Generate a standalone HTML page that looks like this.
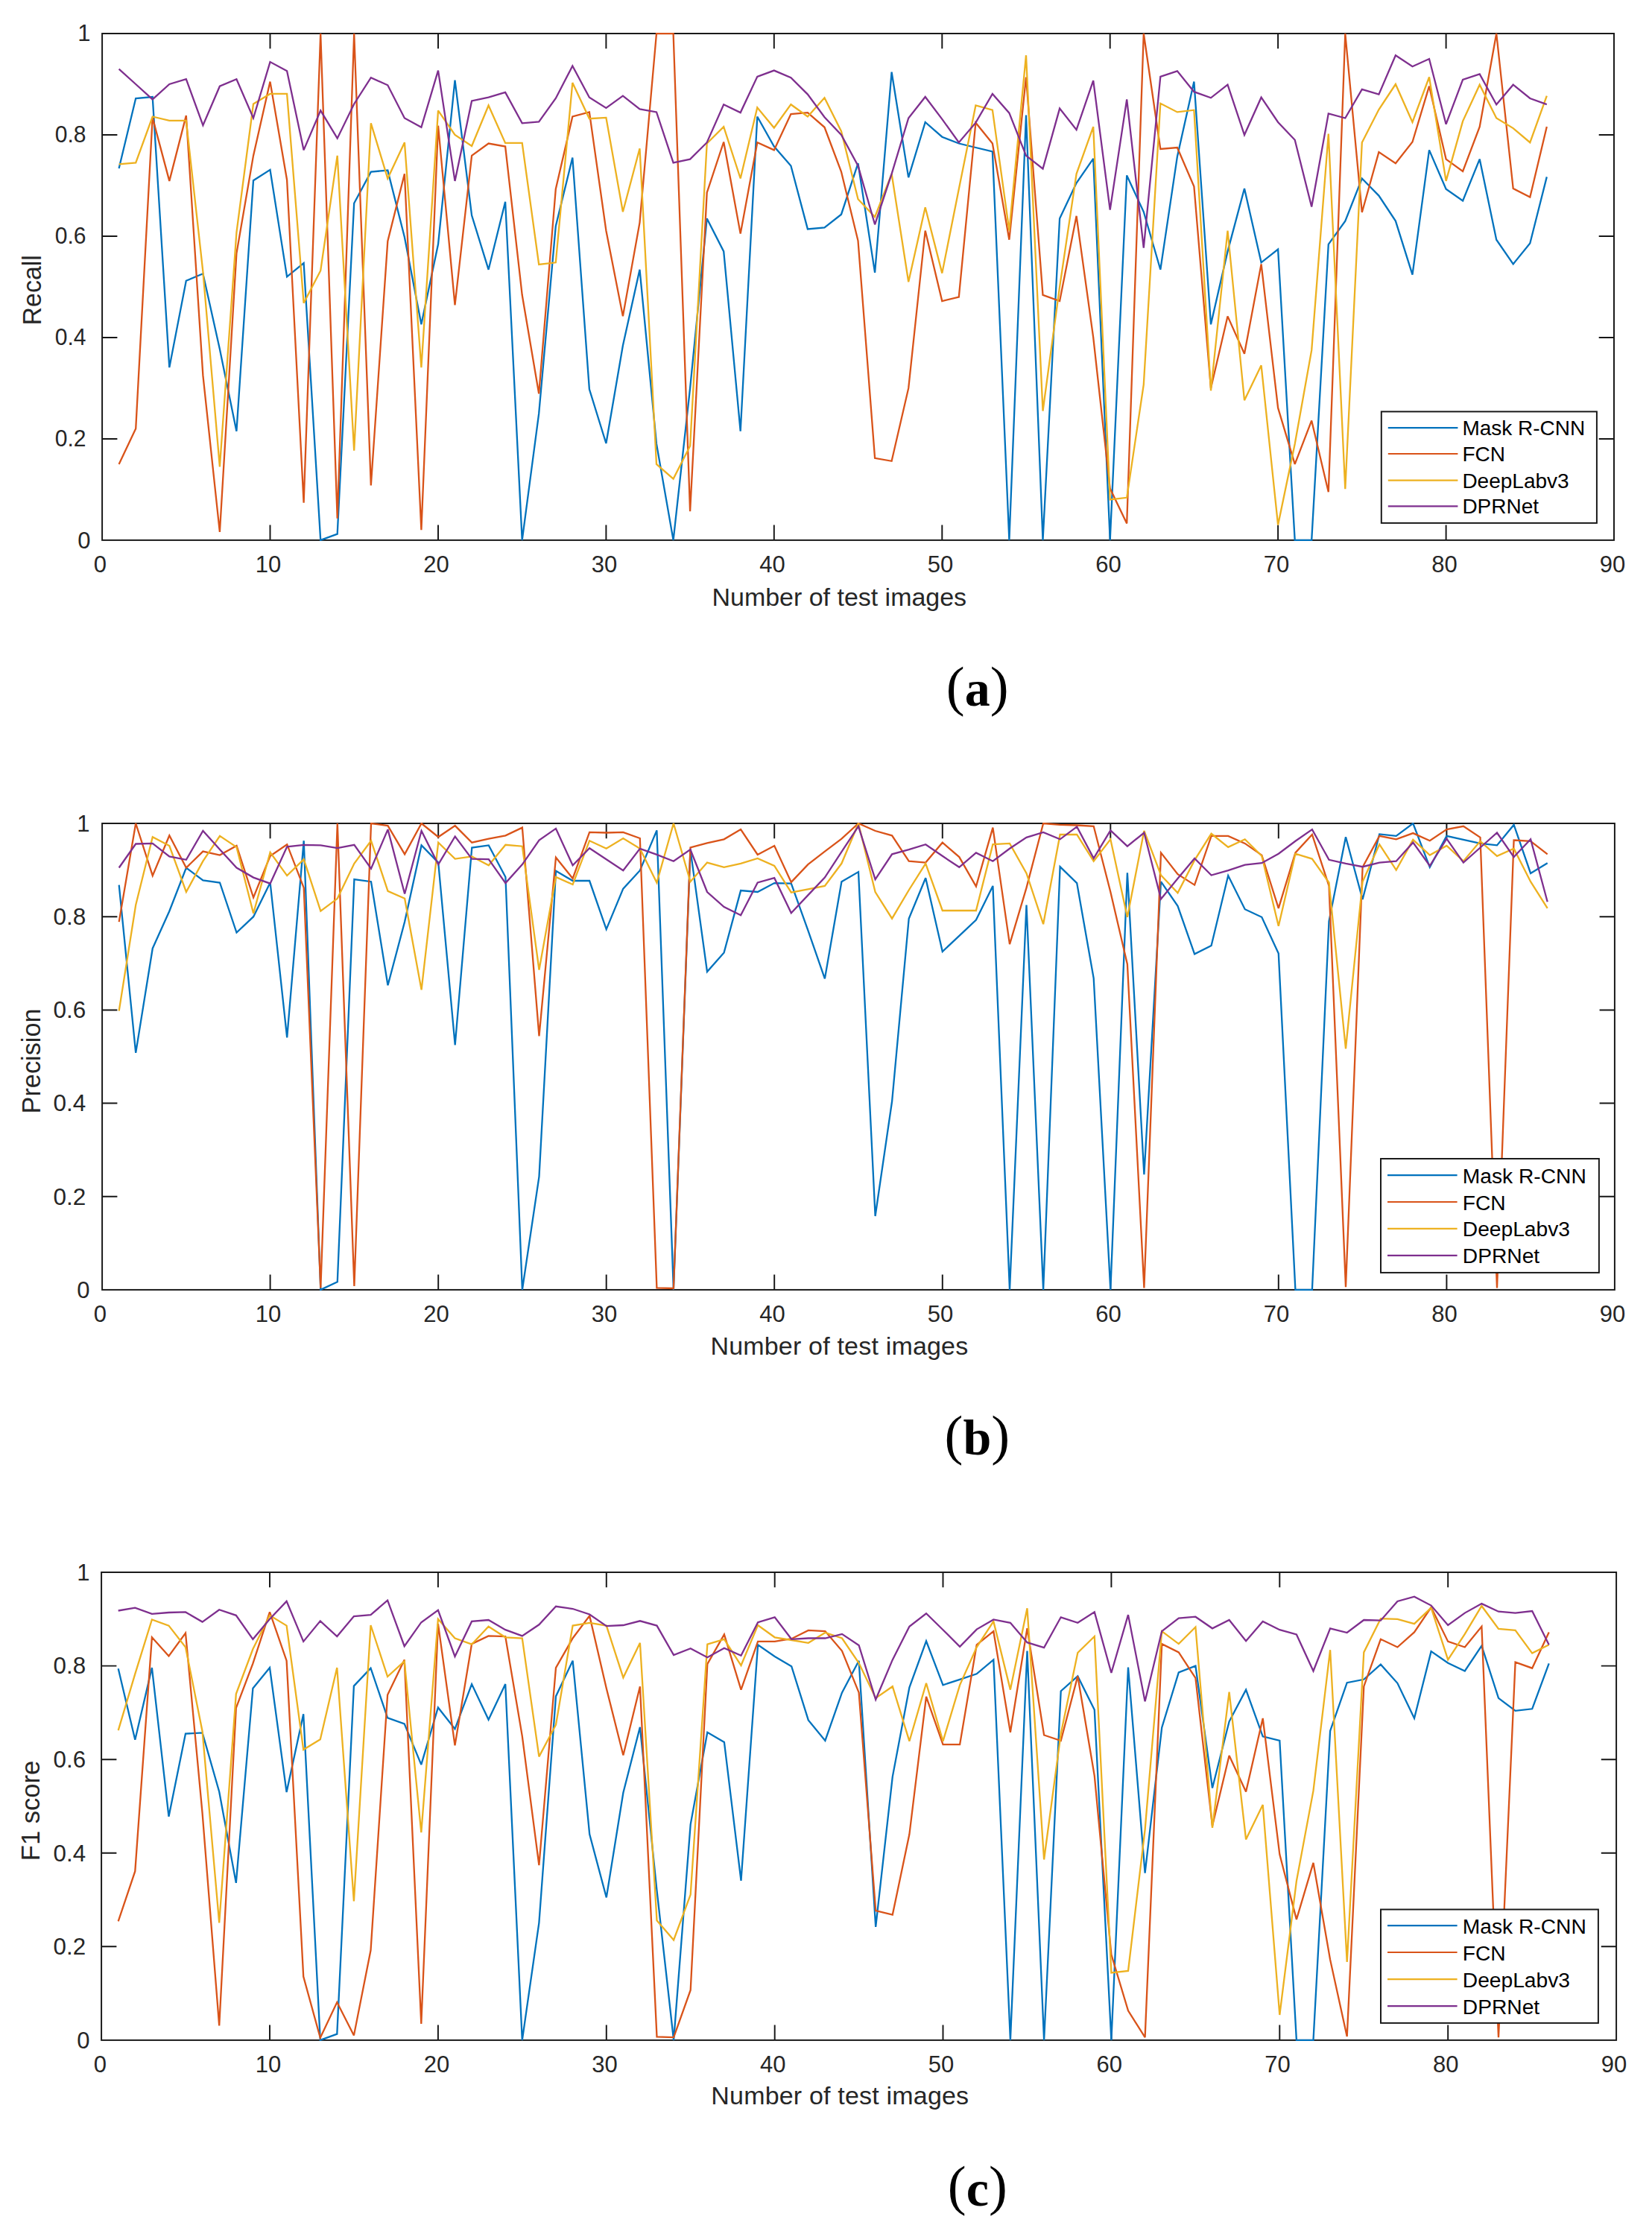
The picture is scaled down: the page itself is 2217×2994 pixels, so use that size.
<!DOCTYPE html>
<html lang="en"><head><meta charset="utf-8"><title>Recall, Precision and F1 score per test image</title>
<style>html,body{margin:0;padding:0;background:#fff}svg{display:block}text{font-family:'Liberation Sans', Arial, Helvetica, sans-serif}</style></head><body>
<svg width="2217" height="2994" viewBox="0 0 2217 2994">
<rect width="2217" height="2994" fill="#fff"/>
<g id="chart1">
<clipPath id="clip0"><rect x="137.1" y="43.9" width="2028.9" height="682.1"/></clipPath>
<g stroke="#161616" stroke-width="1.95" fill="none">
<rect x="137.1" y="45.0" width="2028.9" height="679.9"/>
<path d="M362.5 724.9v-20.3M362.5 45.0v20.3M588.0 724.9v-20.3M588.0 45.0v20.3M813.4 724.9v-20.3M813.4 45.0v20.3M1038.8 724.9v-20.3M1038.8 45.0v20.3M1264.3 724.9v-20.3M1264.3 45.0v20.3M1489.7 724.9v-20.3M1489.7 45.0v20.3M1715.1 724.9v-20.3M1715.1 45.0v20.3M1940.6 724.9v-20.3M1940.6 45.0v20.3M137.1 588.9h20.3M2166.0 588.9h-20.3M137.1 452.9h20.3M2166.0 452.9h-20.3M137.1 317.0h20.3M2166.0 317.0h-20.3M137.1 181.0h20.3M2166.0 181.0h-20.3"/>
</g>
<g fill="none" stroke-width="2.3" stroke-linejoin="miter" stroke-miterlimit="3" clip-path="url(#clip0)">
<polyline stroke="#0072BD" points="159.6,225.9 182.2,132.0 204.7,130.0 227.3,493.1 249.8,376.8 272.4,367.3 294.9,468.6 317.4,578.7 340.0,242.2 362.5,227.9 385.1,371.4 407.6,353.0 430.2,724.9 452.7,716.7 475.2,272.8 497.8,230.6 520.3,228.6 542.9,318.3 565.4,435.3 588.0,327.8 610.5,107.6 633.1,289.1 655.6,361.8 678.1,270.7 700.7,724.9 723.2,554.9 745.8,303.4 768.3,211.6 790.9,522.3 813.4,595.0 835.9,463.8 858.5,361.8 881.0,595.7 903.6,724.9 926.1,520.9 948.7,293.2 971.2,337.4 993.7,578.7 1016.3,156.5 1038.8,196.6 1061.4,222.5 1083.9,307.4 1106.5,305.4 1129.0,287.7 1151.5,219.1 1174.1,365.9 1196.6,96.7 1219.2,238.1 1241.7,164.0 1264.3,183.7 1286.8,192.5 1309.4,198.0 1331.9,203.4 1354.4,724.9 1377.0,154.5 1399.5,724.9 1422.1,293.2 1444.6,245.6 1467.2,212.9 1489.7,724.9 1512.2,235.4 1534.8,284.3 1557.3,361.8 1579.9,210.2 1602.4,109.6 1625.0,435.3 1647.5,337.4 1670.0,253.0 1692.6,352.3 1715.1,334.6 1737.7,724.9 1760.2,724.9 1782.8,327.8 1805.3,296.6 1827.8,239.5 1850.4,262.6 1872.9,296.6 1895.5,368.6 1918.0,201.4 1940.6,253.7 1963.1,269.4 1985.7,213.6 2008.2,321.7 2030.7,354.4 2053.3,326.5 2075.8,237.4"/>
<polyline stroke="#D95319" points="159.6,622.9 182.2,575.3 204.7,157.9 227.3,242.9 249.8,155.1 272.4,503.9 294.9,714.0 317.4,340.1 340.0,208.9 362.5,109.6 385.1,241.5 407.6,674.6 430.2,45.0 452.7,695.7 475.2,45.0 497.8,651.5 520.3,323.8 542.9,233.3 565.4,711.3 588.0,168.7 610.5,409.4 633.1,208.9 655.6,192.5 678.1,196.6 700.7,395.8 723.2,528.4 745.8,253.7 768.3,156.5 790.9,150.4 813.4,309.5 835.9,424.4 858.5,298.6 881.0,45.0 903.6,45.0 926.1,686.1 948.7,258.5 971.2,190.5 993.7,313.6 1016.3,191.2 1038.8,201.4 1061.4,153.1 1083.9,151.1 1106.5,170.8 1129.0,230.6 1151.5,323.1 1174.1,614.8 1196.6,618.8 1219.2,520.9 1241.7,309.5 1264.3,404.0 1286.8,398.5 1309.4,164.7 1331.9,192.5 1354.4,321.7 1377.0,103.5 1399.5,395.8 1422.1,404.0 1444.6,289.8 1467.2,452.9 1489.7,655.6 1512.2,702.5 1534.8,45.0 1557.3,200.0 1579.9,198.0 1602.4,250.3 1625.0,520.9 1647.5,424.4 1670.0,474.7 1692.6,354.4 1715.1,547.4 1737.7,622.9 1760.2,564.4 1782.8,660.3 1805.3,45.0 1827.8,285.0 1850.4,204.1 1872.9,219.1 1895.5,190.5 1918.0,115.7 1940.6,213.6 1963.1,229.9 1985.7,170.1 2008.2,45.0 2030.7,253.0 2053.3,264.6 2075.8,170.1"/>
<polyline stroke="#EDB120" points="159.6,220.4 182.2,218.4 204.7,156.5 227.3,161.9 249.8,161.9 272.4,364.6 294.9,626.3 317.4,312.2 340.0,139.5 362.5,125.9 385.1,125.9 407.6,406.7 430.2,363.2 452.7,208.9 475.2,604.6 497.8,165.3 520.3,239.5 542.9,191.2 565.4,493.1 588.0,148.3 610.5,181.0 633.1,195.9 655.6,141.5 678.1,191.9 700.7,191.9 723.2,355.0 745.8,352.3 768.3,111.0 790.9,159.2 813.4,157.9 835.9,284.3 858.5,199.3 881.0,622.9 903.6,642.6 926.1,598.4 948.7,192.5 971.2,170.1 993.7,239.5 1016.3,144.3 1038.8,171.5 1061.4,140.2 1083.9,156.5 1106.5,131.3 1129.0,176.2 1151.5,267.3 1174.1,291.1 1196.6,233.3 1219.2,378.2 1241.7,278.2 1264.3,366.6 1286.8,253.7 1309.4,141.5 1331.9,147.7 1354.4,309.5 1377.0,74.2 1399.5,551.5 1422.1,384.9 1444.6,233.3 1467.2,170.1 1489.7,670.5 1512.2,667.8 1534.8,516.2 1557.3,138.8 1579.9,150.4 1602.4,147.7 1625.0,524.3 1647.5,309.5 1670.0,537.2 1692.6,490.3 1715.1,704.5 1737.7,595.7 1760.2,469.9 1782.8,179.6 1805.3,656.2 1827.8,191.2 1850.4,147.0 1872.9,113.0 1895.5,164.0 1918.0,103.5 1940.6,242.9 1963.1,162.6 1985.7,113.7 2008.2,158.5 2030.7,172.1 2053.3,191.2 2075.8,128.6"/>
<polyline stroke="#7E2F8E" points="159.6,92.6 182.2,113.0 204.7,133.4 227.3,113.0 249.8,106.2 272.4,168.1 294.9,115.7 317.4,106.2 340.0,158.5 362.5,83.1 385.1,95.3 407.6,201.4 430.2,148.3 452.7,185.7 475.2,139.5 497.8,104.2 520.3,114.3 542.9,158.5 565.4,170.8 588.0,94.6 610.5,242.9 633.1,135.4 655.6,130.7 678.1,123.9 700.7,165.3 723.2,163.3 745.8,132.0 768.3,88.5 790.9,130.7 813.4,144.9 835.9,128.6 858.5,146.3 881.0,150.4 903.6,218.4 926.1,213.6 948.7,191.2 971.2,140.2 993.7,151.1 1016.3,102.8 1038.8,94.6 1061.4,104.2 1083.9,126.6 1106.5,157.2 1129.0,181.0 1151.5,222.5 1174.1,301.3 1196.6,233.3 1219.2,158.5 1241.7,130.0 1264.3,159.9 1286.8,191.2 1309.4,164.7 1331.9,125.9 1354.4,151.7 1377.0,208.9 1399.5,226.5 1422.1,145.6 1444.6,174.2 1467.2,108.2 1489.7,281.6 1512.2,133.4 1534.8,332.6 1557.3,102.8 1579.9,95.3 1602.4,123.2 1625.0,131.3 1647.5,113.7 1670.0,181.0 1692.6,130.7 1715.1,164.0 1737.7,187.8 1760.2,277.5 1782.8,152.4 1805.3,158.5 1827.8,119.8 1850.4,126.6 1872.9,74.2 1895.5,89.2 1918.0,79.0 1940.6,166.7 1963.1,106.9 1985.7,99.4 2008.2,140.2 2030.7,113.7 2053.3,132.0 2075.8,140.2"/>
</g>
<g fill="#262626" font-size="31">
<text x="134.4" y="767.9" text-anchor="middle">0</text>
<text x="359.9" y="767.9" text-anchor="middle">10</text>
<text x="585.4" y="767.9" text-anchor="middle">20</text>
<text x="810.9" y="767.9" text-anchor="middle">30</text>
<text x="1036.4" y="767.9" text-anchor="middle">40</text>
<text x="1261.9" y="767.9" text-anchor="middle">50</text>
<text x="1487.4" y="767.9" text-anchor="middle">60</text>
<text x="1712.9" y="767.9" text-anchor="middle">70</text>
<text x="1938.4" y="767.9" text-anchor="middle">80</text>
<text x="2163.9" y="767.9" text-anchor="middle">90</text>
<text x="104.3" y="735.9">0</text>
<text x="73.8" y="598.9" textLength="41.8" lengthAdjust="spacingAndGlyphs">0.2</text>
<text x="73.8" y="462.9" textLength="41.8" lengthAdjust="spacingAndGlyphs">0.4</text>
<text x="73.8" y="327.0" textLength="41.8" lengthAdjust="spacingAndGlyphs">0.6</text>
<text x="73.8" y="191.0" textLength="41.8" lengthAdjust="spacingAndGlyphs">0.8</text>
<text x="104.3" y="55.0">1</text>
</g>
<text x="955.5" y="812.5" font-size="34" fill="#262626" textLength="341.6" lengthAdjust="spacing">Number of test images</text>
<text transform="translate(55.0 436.4) rotate(-90)" font-size="35.6" fill="#262626" textLength="94.3" lengthAdjust="spacingAndGlyphs">Recall</text>
<rect x="1853.8" y="552.4" width="289.1" height="149.5" fill="#fff" stroke="#161616" stroke-width="1.95"/>
<path d="M1862.8 574.2H1956.4" stroke="#0072BD" stroke-width="2.2" fill="none"/>
<text x="1962.4" y="584.1" font-size="28" fill="#000">Mask R-CNN</text>
<path d="M1862.8 609.0H1956.4" stroke="#D95319" stroke-width="2.2" fill="none"/>
<text x="1962.4" y="618.9" font-size="28" fill="#000">FCN</text>
<path d="M1862.8 644.7H1956.4" stroke="#EDB120" stroke-width="2.2" fill="none"/>
<text x="1962.4" y="654.6" font-size="28" fill="#000">DeepLabv3</text>
<path d="M1862.8 679.4H1956.4" stroke="#7E2F8E" stroke-width="2.2" fill="none"/>
<text x="1962.4" y="689.3" font-size="28" fill="#000">DPRNet</text>
<text x="1311.7" y="947.3" text-anchor="middle" fill="#000" style="font-family:'Liberation Serif','Times New Roman',serif"><tspan font-size="74.6" dy="-1.4">(</tspan><tspan font-size="68" font-weight="bold" dy="1.4">a</tspan><tspan font-size="74.6" dy="-1.4">)</tspan></text>
</g>
<g id="chart2">
<clipPath id="clip1"><rect x="137.1" y="1103.9" width="2029.8" height="628.1"/></clipPath>
<g stroke="#161616" stroke-width="1.95" fill="none">
<rect x="137.1" y="1105.0" width="2029.8" height="625.9"/>
<path d="M362.6 1730.9v-20.3M362.6 1105.0v20.3M588.2 1730.9v-20.3M588.2 1105.0v20.3M813.7 1730.9v-20.3M813.7 1105.0v20.3M1039.2 1730.9v-20.3M1039.2 1105.0v20.3M1264.8 1730.9v-20.3M1264.8 1105.0v20.3M1490.3 1730.9v-20.3M1490.3 1105.0v20.3M1715.8 1730.9v-20.3M1715.8 1105.0v20.3M1941.4 1730.9v-20.3M1941.4 1105.0v20.3M137.1 1605.7h20.3M2166.9 1605.7h-20.3M137.1 1480.5h20.3M2166.9 1480.5h-20.3M137.1 1355.4h20.3M2166.9 1355.4h-20.3M137.1 1230.2h20.3M2166.9 1230.2h-20.3"/>
</g>
<g fill="none" stroke-width="2.3" stroke-linejoin="miter" stroke-miterlimit="3" clip-path="url(#clip1)">
<polyline stroke="#0072BD" points="159.7,1187.6 182.2,1412.9 204.8,1272.7 227.3,1222.7 249.9,1164.5 272.4,1181.4 295.0,1184.5 317.5,1251.5 340.1,1230.2 362.6,1184.5 385.2,1392.3 407.7,1128.2 430.3,1730.9 452.8,1720.3 475.4,1180.1 498.0,1183.2 520.5,1322.2 543.1,1237.1 565.6,1134.4 588.2,1157.6 610.7,1402.3 633.3,1137.5 655.8,1134.4 678.4,1177.0 700.9,1730.9 723.5,1578.8 746.0,1168.8 768.6,1182.0 791.1,1182.0 813.7,1247.1 836.3,1192.6 858.8,1168.2 881.4,1114.4 903.9,1730.9 926.5,1140.7 949.0,1304.0 971.6,1278.4 994.1,1195.1 1016.7,1197.0 1039.2,1185.1 1061.8,1185.7 1084.3,1248.3 1106.9,1313.4 1129.4,1183.2 1152.0,1170.1 1174.6,1632.0 1197.1,1478.0 1219.7,1232.7 1242.2,1178.2 1264.8,1277.1 1287.3,1255.8 1309.9,1234.6 1332.4,1188.9 1355.0,1730.9 1377.5,1214.5 1400.1,1730.9 1422.6,1163.2 1445.2,1185.1 1467.7,1312.8 1490.3,1730.9 1512.9,1171.3 1535.4,1576.3 1558.0,1183.2 1580.5,1215.8 1603.1,1280.3 1625.6,1269.0 1648.2,1175.1 1670.7,1220.2 1693.3,1230.8 1715.8,1279.6 1738.4,1730.9 1760.9,1730.9 1783.5,1236.4 1806.0,1123.2 1828.6,1207.0 1851.2,1119.4 1873.7,1121.9 1896.3,1105.0 1918.8,1163.8 1941.4,1121.9 1963.9,1126.9 1986.5,1131.9 2009.0,1134.4 2031.6,1106.9 2054.1,1172.0 2076.7,1158.2"/>
<polyline stroke="#D95319" points="159.7,1237.1 182.2,1105.0 204.8,1175.1 227.3,1121.3 249.9,1164.5 272.4,1142.6 295.0,1147.6 317.5,1135.0 340.1,1204.5 362.6,1148.8 385.2,1133.2 407.7,1191.4 430.3,1728.4 452.8,1105.0 475.4,1725.9 498.0,1105.0 520.5,1108.1 543.1,1146.3 565.6,1105.0 588.2,1123.2 610.7,1108.1 633.3,1130.7 655.8,1125.7 678.4,1121.3 700.9,1110.6 723.5,1390.4 746.0,1150.7 768.6,1178.9 791.1,1116.9 813.7,1117.5 836.3,1116.9 858.8,1125.0 881.4,1728.4 903.9,1729.0 926.5,1137.5 949.0,1131.3 971.6,1126.3 994.1,1113.1 1016.7,1146.9 1039.2,1135.0 1061.8,1183.9 1084.3,1160.1 1106.9,1142.6 1129.4,1125.7 1152.0,1105.0 1174.6,1115.0 1197.1,1121.3 1219.7,1155.7 1242.2,1157.6 1264.8,1130.7 1287.3,1150.1 1309.9,1189.5 1332.4,1110.6 1355.0,1267.1 1377.5,1191.4 1400.1,1105.0 1422.6,1106.9 1445.2,1107.5 1467.7,1108.8 1490.3,1197.0 1512.9,1294.0 1535.4,1728.4 1558.0,1144.4 1580.5,1173.2 1603.1,1187.6 1625.6,1121.9 1648.2,1121.9 1670.7,1131.9 1693.3,1147.6 1715.8,1218.9 1738.4,1144.4 1760.9,1120.0 1783.5,1188.9 1806.0,1727.1 1828.6,1163.8 1851.2,1121.9 1873.7,1126.3 1896.3,1118.1 1918.8,1128.2 1941.4,1113.1 1963.9,1108.8 1986.5,1123.8 2009.0,1728.4 2031.6,1127.5 2054.1,1128.8 2076.7,1146.3"/>
<polyline stroke="#EDB120" points="159.7,1356.6 182.2,1214.5 204.8,1123.2 227.3,1135.0 249.9,1197.0 272.4,1155.7 295.0,1121.9 317.5,1136.9 340.1,1225.8 362.6,1143.8 385.2,1175.1 407.7,1153.2 430.3,1222.7 452.8,1205.8 475.4,1158.8 498.0,1128.2 520.5,1195.8 543.1,1205.8 565.6,1328.4 588.2,1130.7 610.7,1152.6 633.3,1149.4 655.8,1161.3 678.4,1133.8 700.9,1135.7 723.5,1301.5 746.0,1177.0 768.6,1187.0 791.1,1128.2 813.7,1138.8 836.3,1125.0 858.8,1138.8 881.4,1184.5 903.9,1105.0 926.5,1183.2 949.0,1157.6 971.6,1163.8 994.1,1158.8 1016.7,1151.9 1039.2,1162.0 1061.8,1197.6 1084.3,1193.3 1106.9,1188.9 1129.4,1158.8 1152.0,1105.0 1174.6,1197.0 1197.1,1232.7 1219.7,1194.5 1242.2,1158.8 1264.8,1222.0 1287.3,1222.0 1309.9,1222.0 1332.4,1133.2 1355.0,1131.9 1377.5,1172.0 1400.1,1240.2 1422.6,1120.0 1445.2,1120.0 1467.7,1155.7 1490.3,1126.3 1512.9,1230.8 1535.4,1115.0 1558.0,1174.5 1580.5,1198.3 1603.1,1154.4 1625.6,1118.8 1648.2,1136.9 1670.7,1126.3 1693.3,1148.8 1715.8,1242.7 1738.4,1145.7 1760.9,1152.6 1783.5,1184.5 1806.0,1407.3 1828.6,1183.2 1851.2,1133.2 1873.7,1167.6 1896.3,1126.9 1918.8,1147.6 1941.4,1135.0 1963.9,1155.7 1986.5,1128.8 2009.0,1148.8 2031.6,1138.8 2054.1,1183.2 2076.7,1218.9"/>
<polyline stroke="#7E2F8E" points="159.7,1164.5 182.2,1132.5 204.8,1131.9 227.3,1149.4 249.9,1153.8 272.4,1115.0 295.0,1140.1 317.5,1164.5 340.1,1177.6 362.6,1185.7 385.2,1136.3 407.7,1133.8 430.3,1134.4 452.8,1138.2 475.4,1133.8 498.0,1165.7 520.5,1113.1 543.1,1199.5 565.6,1115.0 588.2,1160.1 610.7,1122.5 633.3,1152.6 655.8,1153.2 678.4,1185.1 700.9,1160.1 723.5,1127.5 746.0,1111.9 768.6,1161.3 791.1,1138.2 813.7,1153.2 836.3,1168.2 858.8,1138.8 881.4,1146.9 903.9,1155.7 926.5,1140.1 949.0,1197.0 971.6,1217.0 994.1,1228.3 1016.7,1184.5 1039.2,1178.2 1061.8,1225.2 1084.3,1201.4 1106.9,1177.6 1129.4,1143.2 1152.0,1108.8 1174.6,1180.1 1197.1,1146.3 1219.7,1140.1 1242.2,1133.2 1264.8,1148.8 1287.3,1163.8 1309.9,1144.4 1332.4,1155.7 1355.0,1138.8 1377.5,1123.8 1400.1,1116.9 1422.6,1126.3 1445.2,1109.4 1467.7,1151.9 1490.3,1114.4 1512.9,1135.7 1535.4,1117.5 1558.0,1206.4 1580.5,1178.9 1603.1,1151.9 1625.6,1174.5 1648.2,1168.2 1670.7,1160.7 1693.3,1158.2 1715.8,1145.7 1738.4,1128.8 1760.9,1113.1 1783.5,1153.8 1806.0,1158.8 1828.6,1163.2 1851.2,1157.6 1873.7,1155.7 1896.3,1130.7 1918.8,1162.0 1941.4,1125.7 1963.9,1157.6 1986.5,1137.5 2009.0,1117.5 2031.6,1150.1 2054.1,1126.3 2076.7,1210.2"/>
</g>
<g fill="#262626" font-size="31">
<text x="134.4" y="1774.1" text-anchor="middle">0</text>
<text x="359.9" y="1774.1" text-anchor="middle">10</text>
<text x="585.4" y="1774.1" text-anchor="middle">20</text>
<text x="810.9" y="1774.1" text-anchor="middle">30</text>
<text x="1036.4" y="1774.1" text-anchor="middle">40</text>
<text x="1261.9" y="1774.1" text-anchor="middle">50</text>
<text x="1487.4" y="1774.1" text-anchor="middle">60</text>
<text x="1712.9" y="1774.1" text-anchor="middle">70</text>
<text x="1938.4" y="1774.1" text-anchor="middle">80</text>
<text x="2163.9" y="1774.1" text-anchor="middle">90</text>
<text x="103.2" y="1741.8">0</text>
<text x="71.6" y="1616.6" font-size="31.5">0.2</text>
<text x="71.6" y="1491.4" font-size="31.5">0.4</text>
<text x="71.6" y="1366.3" font-size="31.5">0.6</text>
<text x="71.6" y="1241.1" font-size="31.5">0.8</text>
<text x="103.3" y="1115.9">1</text>
</g>
<text x="953.4" y="1817.8" font-size="34" fill="#262626" textLength="345.8" lengthAdjust="spacing">Number of test images</text>
<text transform="translate(54.1 1494.4) rotate(-90)" font-size="35.6" fill="#262626" textLength="140.9" lengthAdjust="spacingAndGlyphs">Precision</text>
<rect x="1853.0" y="1555.0" width="292.9" height="152.9" fill="#fff" stroke="#161616" stroke-width="1.95"/>
<path d="M1862.0 1577.1H1955.6" stroke="#0072BD" stroke-width="2.2" fill="none"/>
<text x="1962.8" y="1587.6" font-size="28.2" fill="#000">Mask R-CNN</text>
<path d="M1862.0 1613.0H1955.6" stroke="#D95319" stroke-width="2.2" fill="none"/>
<text x="1962.8" y="1623.5" font-size="28.2" fill="#000">FCN</text>
<path d="M1862.0 1648.9H1955.6" stroke="#EDB120" stroke-width="2.2" fill="none"/>
<text x="1962.8" y="1659.4" font-size="28.2" fill="#000">DeepLabv3</text>
<path d="M1862.0 1684.9H1955.6" stroke="#7E2F8E" stroke-width="2.2" fill="none"/>
<text x="1962.8" y="1695.4" font-size="28.2" fill="#000">DPRNet</text>
<text x="1311.3" y="1951.9" text-anchor="middle" fill="#000" style="font-family:'Liberation Serif','Times New Roman',serif"><tspan font-size="74.6" dy="-1.4">(</tspan><tspan font-size="68" font-weight="bold" dy="1.4">b</tspan><tspan font-size="74.6" dy="-1.4">)</tspan></text>
</g>
<g id="chart3">
<clipPath id="clip2"><rect x="136.1" y="2108.9" width="2033.0" height="630.1"/></clipPath>
<g stroke="#161616" stroke-width="1.95" fill="none">
<rect x="136.1" y="2110.0" width="2033.0" height="627.9"/>
<path d="M362.0 2737.9v-20.3M362.0 2110.0v20.3M587.9 2737.9v-20.3M587.9 2110.0v20.3M813.8 2737.9v-20.3M813.8 2110.0v20.3M1039.7 2737.9v-20.3M1039.7 2110.0v20.3M1265.5 2737.9v-20.3M1265.5 2110.0v20.3M1491.4 2737.9v-20.3M1491.4 2110.0v20.3M1717.3 2737.9v-20.3M1717.3 2110.0v20.3M1943.2 2737.9v-20.3M1943.2 2110.0v20.3M136.1 2612.3h20.3M2169.1 2612.3h-20.3M136.1 2486.7h20.3M2169.1 2486.7h-20.3M136.1 2361.2h20.3M2169.1 2361.2h-20.3M136.1 2235.6h20.3M2169.1 2235.6h-20.3"/>
</g>
<g fill="none" stroke-width="2.3" stroke-linejoin="miter" stroke-miterlimit="3" clip-path="url(#clip2)">
<polyline stroke="#0072BD" points="158.7,2239.3 181.3,2334.8 203.9,2238.1 226.5,2437.8 249.0,2326.6 271.6,2325.4 294.2,2404.5 316.8,2526.9 339.4,2265.7 362.0,2238.1 384.6,2405.1 407.2,2300.3 429.8,2737.9 452.3,2729.7 474.9,2262.6 497.5,2238.7 520.1,2305.3 542.7,2313.4 565.3,2368.1 587.9,2291.5 610.5,2320.3 633.1,2260.1 655.6,2307.8 678.2,2260.1 700.8,2737.9 723.4,2580.3 746.0,2276.4 768.6,2228.7 791.2,2461.6 813.8,2546.4 836.4,2405.7 858.9,2317.8 881.5,2537.0 904.1,2737.9 926.7,2448.4 949.3,2324.7 971.9,2337.9 994.5,2523.8 1017.1,2207.3 1039.7,2223.0 1062.2,2236.2 1084.8,2308.4 1107.4,2336.0 1130.0,2271.4 1152.6,2228.7 1175.2,2585.9 1197.8,2384.4 1220.4,2264.5 1243.0,2202.3 1265.5,2261.3 1288.1,2253.8 1310.7,2246.3 1333.3,2227.4 1355.9,2737.9 1378.5,2215.5 1401.1,2737.9 1423.7,2269.5 1446.3,2249.4 1468.8,2294.6 1491.4,2737.9 1514.0,2237.5 1536.6,2513.7 1559.2,2318.5 1581.8,2244.4 1604.4,2235.6 1627.0,2399.5 1649.6,2310.3 1672.1,2267.6 1694.7,2330.4 1717.3,2336.0 1739.9,2737.9 1762.5,2737.9 1785.1,2322.9 1807.7,2258.2 1830.3,2253.8 1852.9,2233.7 1875.4,2258.8 1898.0,2305.9 1920.6,2216.1 1943.2,2231.8 1965.8,2242.5 1988.4,2208.6 2011.0,2278.9 2033.6,2295.9 2056.2,2293.3 2078.7,2232.4"/>
<polyline stroke="#D95319" points="158.7,2578.4 181.3,2511.2 203.9,2197.3 226.5,2222.4 249.0,2191.6 271.6,2433.4 294.2,2718.4 316.8,2292.1 339.4,2232.4 362.0,2163.4 384.6,2228.7 407.2,2652.5 429.8,2734.8 452.3,2687.0 474.9,2731.6 497.5,2617.3 520.1,2274.5 542.7,2227.4 565.3,2715.9 587.9,2179.1 610.5,2342.3 633.1,2206.1 655.6,2195.4 678.2,2196.0 700.8,2329.8 723.4,2503.1 746.0,2238.1 768.6,2198.5 791.2,2168.4 813.8,2265.7 836.4,2355.5 858.9,2263.2 881.5,2733.5 904.1,2734.1 926.7,2670.7 949.3,2233.1 971.9,2193.5 994.5,2267.6 1017.1,2202.9 1039.7,2202.9 1062.2,2199.2 1084.8,2187.9 1107.4,2189.1 1130.0,2215.5 1152.6,2271.4 1175.2,2564.0 1197.8,2569.6 1220.4,2461.6 1243.0,2277.0 1265.5,2341.1 1288.1,2341.1 1310.7,2207.3 1333.3,2189.1 1355.9,2324.7 1378.5,2185.3 1401.1,2328.5 1423.7,2336.0 1446.3,2249.4 1468.8,2383.1 1491.4,2623.0 1514.0,2698.3 1536.6,2734.1 1559.2,2206.1 1581.8,2217.4 1604.4,2251.9 1627.0,2450.3 1649.6,2356.1 1672.1,2404.5 1694.7,2305.9 1717.3,2488.6 1739.9,2575.9 1762.5,2499.9 1785.1,2629.9 1807.7,2732.9 1830.3,2263.2 1852.9,2199.8 1875.4,2210.5 1898.0,2190.4 1920.6,2157.1 1943.2,2202.9 1965.8,2210.5 1988.4,2182.8 2011.0,2734.1 2033.6,2230.6 2056.2,2238.7 2078.7,2190.4"/>
<polyline stroke="#EDB120" points="158.7,2322.2 181.3,2246.3 203.9,2173.4 226.5,2181.6 249.0,2210.5 271.6,2323.5 294.2,2580.3 316.8,2273.3 339.4,2213.0 362.0,2167.8 384.6,2181.6 407.2,2348.0 429.8,2334.2 452.3,2238.1 474.9,2551.4 497.5,2181.0 520.1,2250.0 542.7,2229.3 565.3,2459.1 587.9,2172.8 610.5,2198.5 633.1,2206.7 655.6,2182.8 678.2,2197.3 700.8,2198.5 723.4,2357.4 746.0,2314.7 768.6,2181.6 791.2,2177.8 813.8,2181.6 836.4,2251.3 858.9,2204.8 881.5,2577.2 904.1,2603.5 926.7,2542.6 949.3,2206.7 971.9,2199.8 994.5,2235.0 1017.1,2181.0 1039.7,2197.3 1062.2,2201.0 1084.8,2204.8 1107.4,2191.0 1130.0,2198.5 1152.6,2231.8 1175.2,2278.9 1197.8,2263.2 1220.4,2336.7 1243.0,2258.8 1265.5,2336.7 1288.1,2261.3 1310.7,2210.5 1333.3,2175.9 1355.9,2267.6 1378.5,2158.3 1401.1,2495.5 1423.7,2326.6 1446.3,2218.0 1468.8,2196.0 1491.4,2647.5 1514.0,2645.0 1536.6,2455.3 1559.2,2189.1 1581.8,2206.1 1604.4,2183.5 1627.0,2452.8 1649.6,2270.7 1672.1,2468.5 1694.7,2422.1 1717.3,2704.0 1739.9,2524.4 1762.5,2403.2 1785.1,2214.2 1807.7,2633.0 1830.3,2217.4 1852.9,2172.2 1875.4,2172.8 1898.0,2179.1 1920.6,2157.7 1943.2,2227.4 1965.8,2192.9 1988.4,2155.2 2011.0,2186.0 2033.6,2187.9 2056.2,2218.6 2078.7,2207.3"/>
<polyline stroke="#7E2F8E" points="158.7,2161.5 181.3,2157.7 203.9,2165.9 226.5,2164.0 249.0,2163.4 271.6,2176.6 294.2,2160.2 316.8,2167.8 339.4,2199.8 362.0,2172.8 384.6,2148.9 407.2,2202.9 429.8,2175.3 452.3,2196.0 474.9,2169.0 497.5,2167.1 520.1,2147.7 542.7,2209.2 565.3,2177.2 587.9,2160.9 610.5,2223.0 633.1,2175.9 655.6,2174.0 678.2,2187.2 700.8,2195.4 723.4,2180.3 746.0,2155.8 768.6,2159.0 791.2,2166.5 813.8,2182.2 836.4,2181.0 858.9,2175.3 881.5,2181.6 904.1,2221.1 926.7,2212.3 949.3,2224.3 971.9,2211.7 994.5,2221.8 1017.1,2177.2 1039.7,2170.3 1062.2,2199.8 1084.8,2198.5 1107.4,2198.5 1130.0,2192.9 1152.6,2208.0 1175.2,2280.8 1197.8,2227.4 1220.4,2182.8 1243.0,2165.3 1265.5,2187.2 1288.1,2209.8 1310.7,2186.6 1333.3,2173.4 1355.9,2177.8 1378.5,2204.2 1401.1,2211.1 1423.7,2170.3 1446.3,2177.8 1468.8,2163.4 1491.4,2245.0 1514.0,2167.1 1536.6,2283.3 1559.2,2189.1 1581.8,2171.5 1604.4,2169.7 1627.0,2185.3 1649.6,2174.0 1672.1,2202.3 1694.7,2175.9 1717.3,2187.2 1739.9,2193.5 1762.5,2242.5 1785.1,2185.3 1807.7,2191.0 1830.3,2174.0 1852.9,2174.7 1875.4,2148.9 1898.0,2142.7 1920.6,2154.6 1943.2,2181.0 1965.8,2164.6 1988.4,2152.1 2011.0,2162.7 2033.6,2164.6 2056.2,2162.1 2078.7,2207.3"/>
</g>
<g fill="#262626" font-size="31">
<text x="134.4" y="2780.9" text-anchor="middle">0</text>
<text x="360.1" y="2780.9" text-anchor="middle">10</text>
<text x="585.9" y="2780.9" text-anchor="middle">20</text>
<text x="811.6" y="2780.9" text-anchor="middle">30</text>
<text x="1037.3" y="2780.9" text-anchor="middle">40</text>
<text x="1263.0" y="2780.9" text-anchor="middle">50</text>
<text x="1488.8" y="2780.9" text-anchor="middle">60</text>
<text x="1714.5" y="2780.9" text-anchor="middle">70</text>
<text x="1940.2" y="2780.9" text-anchor="middle">80</text>
<text x="2166.0" y="2780.9" text-anchor="middle">90</text>
<text x="103.2" y="2748.7">0</text>
<text x="71.6" y="2623.1" font-size="31.3">0.2</text>
<text x="71.6" y="2497.5" font-size="31.3">0.4</text>
<text x="71.6" y="2372.0" font-size="31.3">0.6</text>
<text x="71.6" y="2246.4" font-size="31.3">0.8</text>
<text x="103.3" y="2120.8">1</text>
</g>
<text x="954.3" y="2824.2" font-size="34" fill="#262626" textLength="345.8" lengthAdjust="spacing">Number of test images</text>
<text transform="translate(53.2 2497.2) rotate(-90)" font-size="35.6" fill="#262626" textLength="134.5" lengthAdjust="spacingAndGlyphs">F1 score</text>
<rect x="1853.0" y="2562.5" width="291.9" height="152.4" fill="#fff" stroke="#161616" stroke-width="1.95"/>
<path d="M1862.0 2584.1H1955.6" stroke="#0072BD" stroke-width="2.2" fill="none"/>
<text x="1962.8" y="2594.6" font-size="28.2" fill="#000">Mask R-CNN</text>
<path d="M1862.0 2620.0H1955.6" stroke="#D95319" stroke-width="2.2" fill="none"/>
<text x="1962.8" y="2630.5" font-size="28.2" fill="#000">FCN</text>
<path d="M1862.0 2656.2H1955.6" stroke="#EDB120" stroke-width="2.2" fill="none"/>
<text x="1962.8" y="2666.7" font-size="28.2" fill="#000">DeepLabv3</text>
<path d="M1862.0 2692.2H1955.6" stroke="#7E2F8E" stroke-width="2.2" fill="none"/>
<text x="1962.8" y="2702.7" font-size="28.2" fill="#000">DPRNet</text>
<text x="1311.8" y="2959.5" text-anchor="middle" fill="#000" style="font-family:'Liberation Serif','Times New Roman',serif"><tspan font-size="74.6" dy="-1.4">(</tspan><tspan font-size="68" font-weight="bold" dy="1.4">c</tspan><tspan font-size="74.6" dy="-1.4">)</tspan></text>
</g>
</svg>
</body></html>
